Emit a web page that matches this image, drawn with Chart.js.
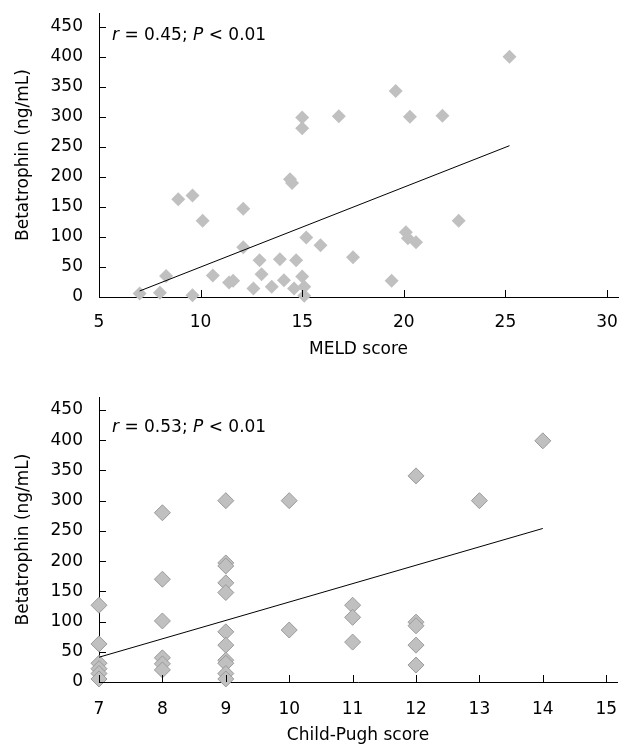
<!DOCTYPE html>
<html>
<head>
<meta charset="utf-8">
<script src="https://cdn.jsdelivr.net/npm/chart.js@4"></script>
<style>
  body { margin: 0; background: #fff; overflow: hidden; }
  .box { position: absolute; left: 0; width: 626px; }
</style>
</head>
<body>
<div class="box" style="top:0;height:372px"><canvas id="meldChart" width="626" height="372"></canvas></div>
<div class="box" style="top:372px;height:380px"><canvas id="cpChart" width="626" height="380"></canvas></div>
<script>
// MELD score vs betatrophin
const meldScore = [7, 8, 8.3, 8.9, 9.6, 9.6, 10.1, 10.6, 11.4, 11.6,
  12.1, 12.1, 12.6, 12.9, 13.0, 13.5, 13.9, 14.1, 14.4, 14.5,
  14.7, 14.6, 15.0, 15.0, 15.0, 15.1, 15.1, 15.2, 15.9, 16.8,
  17.5, 19.4, 19.6, 20.1, 20.2, 20.3, 20.6, 21.9, 22.7, 25.2];
const meldBeta = [6, 7, 35, 163, 169, 3, 127, 36, 24, 27,
  147, 83, 14, 61, 38, 17, 63, 28, 196, 190,
  61, 14, 299, 281, 34, 17, 2, 99, 86, 301,
  66, 27, 343, 108, 98, 300, 91, 302, 127, 400];
const meldTrendX = [7, 25.2];
const meldTrendY = [10, 252];
const meldTicks = [5, 10, 15, 20, 25, 30];

// Child-Pugh score vs betatrophin
const cpScore = [7, 7, 7, 7, 7, 7,
  8, 8, 8, 8, 8, 8,
  9, 9, 9, 9, 9, 9, 9, 9, 9, 9, 9,
  10, 10,
  11, 11, 11,
  12, 12, 12, 12, 12,
  13, 14];
const cpBeta = [127, 63, 31, 22, 14, 5,
  280, 170, 101, 40, 30, 20,
  300, 197, 192, 164, 148, 83, 61, 36, 31, 14, 5,
  300, 86,
  127, 107, 66,
  341, 99, 93, 61, 28,
  300, 399];
const cpTrendX = [7, 14];
const cpTrendY = [41, 254];
const cpTicks = [7, 8, 9, 10, 11, 12, 13, 14, 15];

const betaTicks = [0, 50, 100, 150, 200, 250, 300, 350, 400, 450];

const FONT = { family: '"DejaVu Sans", Verdana, sans-serif', size: 17 };

// ticks point into the plot, Excel style
const innerTicks = {
  id: 'innerTicks',
  afterDatasetsDraw(chart, args, opts) {
    const ctx = chart.ctx;
    const area = chart.chartArea;
    const len = opts.length || 7;
    ctx.save();
    ctx.strokeStyle = '#000';
    ctx.lineWidth = 1;
    ctx.beginPath();
    chart.scales.x.ticks.forEach(t => {
      const px = Math.round(chart.scales.x.getPixelForValue(t.value)) + 0.5;
      ctx.moveTo(px, area.bottom);
      ctx.lineTo(px, area.bottom - len);
    });
    chart.scales.y.ticks.forEach(t => {
      const py = Math.round(chart.scales.y.getPixelForValue(t.value)) + 0.5;
      ctx.moveTo(area.left, py);
      ctx.lineTo(area.left + len, py);
    });
    ctx.stroke();
    ctx.restore();
  }
};

// "r = ...; P < ..." with italic letters
const statLabel = {
  id: 'statLabel',
  afterDraw(chart, args, opts) {
    if (!opts.parts) return;
    const ctx = chart.ctx;
    let x = chart.chartArea.left + opts.dx;
    const y = chart.chartArea.top + opts.dy;
    ctx.save();
    ctx.fillStyle = '#000';
    ctx.textBaseline = 'alphabetic';
    opts.parts.forEach(p => {
      ctx.font = (p.italic ? 'italic ' : '') + FONT.size + 'px ' + FONT.family;
      ctx.fillText(p.text, x, y);
      x += ctx.measureText(p.text).width;
    });
    ctx.restore();
  }
};

function makeChart(id, cfg) {
  const points = cfg.xs.map((v, i) => ({ x: v, y: cfg.ys[i] }));
  const trend = cfg.trendX.map((v, i) => ({ x: v, y: cfg.trendY[i] }));
  return new Chart(document.getElementById(id), {
    type: 'scatter',
    data: {
      datasets: [{
        data: trend,
        showLine: true,
        borderColor: '#000',
        borderWidth: 1,
        pointRadius: 0,
        order: 0
      }, {
        data: points,
        pointStyle: 'rectRot',
        pointRadius: cfg.radius,
        backgroundColor: '#c0c0c0',
        borderColor: cfg.border,
        borderWidth: cfg.borderWidth,
        clip: false,
        order: 1
      }]
    },
    options: {
      responsive: false,
      animation: false,
      devicePixelRatio: 1,
      layout: { padding: { left: 6, right: 8, top: cfg.padTop, bottom: 0 } },
      plugins: {
        legend: { display: false },
        tooltip: { enabled: false },
        innerTicks: { length: 7 },
        statLabel: { parts: cfg.stat, dx: 13, dy: cfg.statDy }
      },
      scales: {
        x: {
          type: 'linear',
          min: cfg.xMin,
          max: cfg.xMax,
          afterBuildTicks: s => { s.ticks = cfg.xTicks.map(v => ({ value: v })); },
          afterFit: s => { s.height = cfg.xHeight; s.paddingLeft = 0; s.paddingRight = 0; },
          grid: { display: false, drawTicks: false },
          border: { display: true, color: '#000', width: 1 },
          ticks: { color: '#000', font: FONT, padding: cfg.xLabelPad, maxRotation: 0, autoSkip: false },
          title: { display: true, text: cfg.xTitle, color: '#000', font: FONT, padding: { top: 0, bottom: cfg.xTitlePad } }
        },
        y: {
          type: 'linear',
          min: 0,
          max: cfg.yMax,
          afterBuildTicks: s => { s.ticks = betaTicks.map(v => ({ value: v })); },
          afterFit: s => { s.width = 93; s.paddingTop = 0; s.paddingBottom = 0; },
          grid: { display: false, drawTicks: false },
          border: { display: true, color: '#000', width: 1 },
          ticks: { color: '#000', font: FONT, padding: 16, autoSkip: false },
          title: { display: true, text: 'Betatrophin (ng/mL)', color: '#000', font: FONT, padding: { top: 7, bottom: 0 } }
        }
      }
    },
    plugins: [innerTicks, statLabel]
  });
}

makeChart('meldChart', {
  xs: meldScore, ys: meldBeta, trendX: meldTrendX, trendY: meldTrendY,
  xTicks: meldTicks, xMin: 5, xMax: 30.54, yMax: 473,
  xTitle: 'MELD score', radius: 7, border: '#c0c0c0', borderWidth: 0,
  padTop: 13, xHeight: 75, xLabelPad: 15, xTitlePad: 12, statDy: 27,
  stat: [{ text: 'r', italic: true }, { text: ' = 0.45; ' }, { text: 'P', italic: true }, { text: ' < 0.01' }]
});

// bottom canvas runs a few px past the window so its x title sits low, cut like the reference
makeChart('cpChart', {
  xs: cpScore, ys: cpBeta, trendX: cpTrendX, trendY: cpTrendY,
  xTicks: cpTicks, xMin: 7, xMax: 15.17, yMax: 471.5,
  xTitle: 'Child-Pugh score', radius: 8, border: '#9a9a9a', borderWidth: 1,
  padTop: 25, xHeight: 70, xLabelPad: 17, xTitlePad: 6, statDy: 35,
  stat: [{ text: 'r', italic: true }, { text: ' = 0.53; ' }, { text: 'P', italic: true }, { text: ' < 0.01' }]
});
</script>
</body>
</html>
